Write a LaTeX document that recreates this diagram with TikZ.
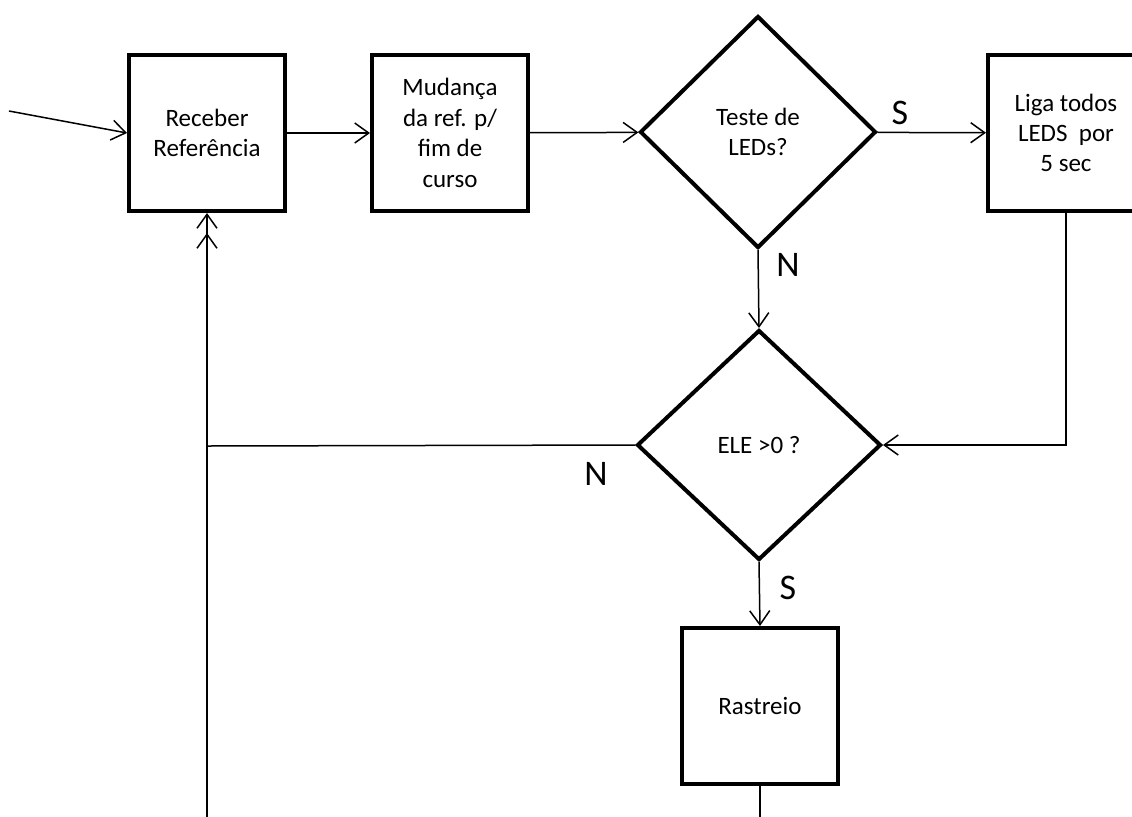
\documentclass[tikz,border=0pt]{standalone}
\usepackage{fontspec}
\setmainfont{Carlito}
\usetikzlibrary{shapes.geometric,arrows.meta}

\tikzset{
    caixa/.style={draw, line width=2pt, minimum width=78pt, minimum height=78pt,
        align=center, inner sep=2pt, font=\fontsize{12.5}{15.2}\selectfont},
    decisao/.style={draw, diamond, line width=2pt, align=center, inner sep=0pt,
        font=\fontsize{12.5}{15.2}\selectfont},
    seta/.style={line width=0.75pt, -{Straight Barb[length=7pt,width=10pt]}},
    linha/.style={line width=0.75pt},
    rotulo/.style={font=\fontsize{18}{20}\selectfont}
}

\begin{document}
\begin{tikzpicture}[x=0.5pt,y=-0.5pt]
            \useasboundingbox (0,0) rectangle (1132,816);

            % blocos
            \node[caixa] (rec) at (207,133) {Receber\\Referência};
            \node[caixa] (mud) at (450,133) {Mudança\\da ref. p/\\fim de\\curso};
            \node[decisao, minimum width=118pt, minimum height=116pt] (teste) at (758,132) {Teste de\\LEDs?};
            \node[caixa] (liga) at (1066,133) {Liga todos\\LEDS\ \ por\\5 sec};
            \node[decisao, minimum width=122pt, minimum height=115pt] (ele) at (759,445) {ELE >0 ?};
            \node[caixa] (rast) at (760,706) {Rastreio};

            \coordinate (ini) at (9,111);
            \coordinate (jn) at (207,446);
            \coordinate (fim1) at (207,820);
            \coordinate (fim2) at (760,820);

            % ligacoes
            \draw[seta] (ini) -- (rec.west);
            \draw[seta] (rec) -- (mud);
            \draw[seta] (mud) -- (teste);
            \draw[seta] (teste) -- (liga);
            \draw[seta] (teste.south) -- (ele.north);
            \draw[seta] (liga.south) |- (ele.east);
            \draw[linha] (ele.west) -- (jn);
            \draw[seta, shorten >=10pt] (jn) -- (rec.south);
            \draw[seta] (fim1) -- (rec.south);
            \draw[seta] (ele.south) -- (rast.north);
            \draw[linha] (rast.south) -- (fim2);

            % rotulos
            \node[rotulo] (s1) at (900,113) {S};
            \node[rotulo] (n1) at (788,265) {N};
            \node[rotulo] (n2) at (596,474) {N};
            \node[rotulo] (s2) at (788,588) {S};

        \end{tikzpicture}
\end{document}
